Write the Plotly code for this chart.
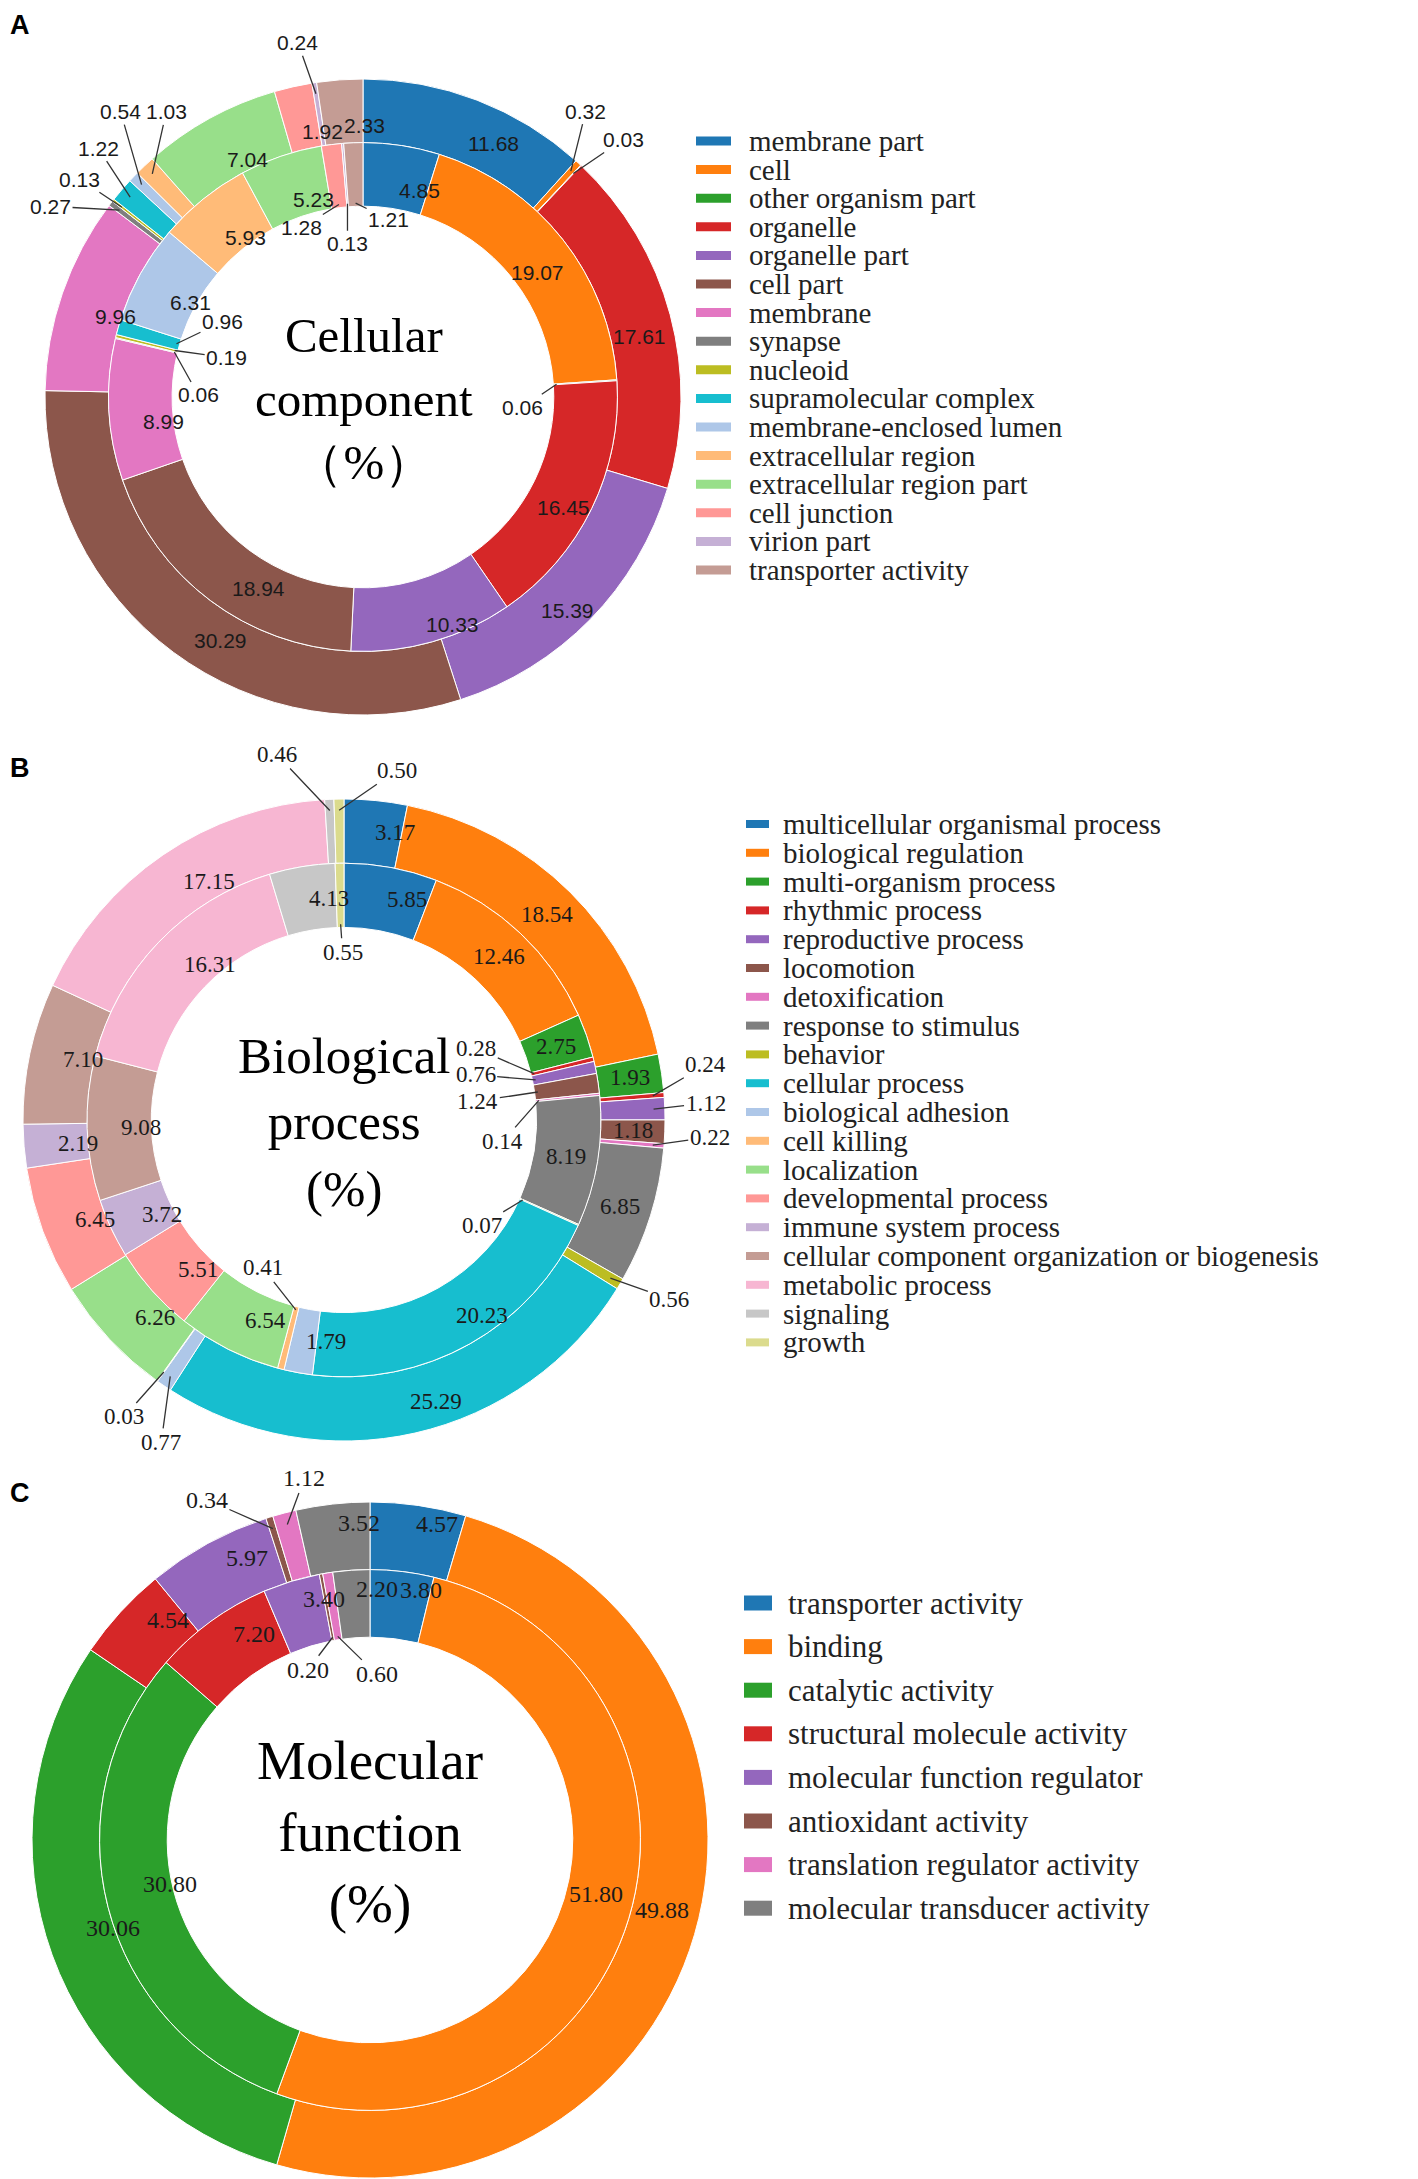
import math
import plotly.graph_objects as go

W, H = 1418, 2179

# ---------------- data ----------------
cc_labels = ["membrane part", "cell", "other organism part", "organelle", "organelle part",
             "cell part", "membrane", "synapse", "nucleoid", "supramolecular complex",
             "membrane-enclosed lumen", "extracellular region", "extracellular region part",
             "cell junction", "virion part", "transporter activity"]
cc_inner = [4.85, 19.07, 0.06, 16.45, 10.33, 18.94, 8.99, 0.06, 0.19, 0.96,
            6.31, 5.93, 5.23, 1.28, 0.13, 1.21]
cc_outer = [11.68, 0.32, 0.03, 17.61, 15.39, 30.29, 9.96, 0.27, 0.13, 1.22,
            0.54, 1.03, 7.04, 1.92, 0.24, 2.33]

bp_labels = ["multicellular organismal process", "biological regulation", "multi-organism process",
             "rhythmic process", "reproductive process", "locomotion", "detoxification",
             "response to stimulus", "behavior", "cellular process", "biological adhesion",
             "cell killing", "localization", "developmental process", "immune system process",
             "cellular component organization or biogenesis", "metabolic process", "signaling", "growth"]
bp_inner = [5.85, 12.46, 2.75, 0.28, 0.76, 1.24, 0.14, 8.19, 0.07, 20.23, 1.79, 0.41,
            6.54, 5.51, 3.72, 9.08, 16.31, 4.13, 0.55]
bp_outer = [3.17, 18.54, 1.93, 0.24, 1.12, 1.18, 0.22, 6.85, 0.56, 25.29, 0.77, 0.03,
            6.26, 6.45, 2.19, 7.10, 17.15, 0.46, 0.50]

mf_labels = ["transporter activity", "binding", "catalytic activity", "structural molecule activity",
             "molecular function regulator", "antioxidant activity", "translation regulator activity",
             "molecular transducer activity"]
mf_inner = [3.80, 51.80, 30.80, 7.20, 3.40, 0.20, 0.60, 2.20]
mf_outer = [4.57, 49.88, 30.06, 4.54, 5.97, 0.34, 1.12, 3.52]

PALETTE = ["#1f77b4", "#ff7f0e", "#2ca02c", "#d62728", "#9467bd", "#8c564b", "#e377c2",
           "#7f7f7f", "#bcbd22", "#17becf", "#aec7e8", "#ffbb78", "#98df8a", "#ff9896",
           "#c5b0d5", "#c49c94", "#f7b6d2", "#c7c7c7", "#dbdb8d", "#9edae5"]

SERIF = "Liberation Serif, Times New Roman, serif"
SANS = "Liberation Sans, Arial, sans-serif"

# ---------------- layout / style ----------------
panels = [
    dict(key="A", labels=cc_labels, inner=cc_inner, outer=cc_outer,
         cx=363, cy=397, R=318, num_font=SANS, num_size=21,
         title="Cellular<br>component<br>（%）", title_xy=(364, 399), title_size=49,
         letter_xy=(20, 25),
         legend=dict(sx0=696, sx1=731, sh=9, tx=747, y0=141, dy=28.6, size=29),
         call_outer={1: (15, -60), 2: (50, -34), 7: (-69, -4), 8: (-42, -28), 9: (-32, -49),
                     10: (-21, -73), 11: (14, -62), 14: (-18, -51)},
         call_inner={2: (-34, 23), 7: (24, 43), 8: (52, 7), 9: (46, -22), 13: (-37, 23),
                     14: (0, 40), 15: (33, 16)}),
    dict(key="B", labels=bp_labels, inner=bp_inner, outer=bp_outer,
         cx=344, cy=1120, R=321, num_font=SERIF, num_size=23,
         title="Biological<br>process<br>(%)", title_xy=(344, 1122), title_size=51,
         letter_xy=(20, 768),
         legend=dict(sx0=746, sx1=769, sh=8, tx=781, y0=824, dy=28.8, size=29),
         call_outer={3: (53, -31), 4: (52, -6), 6: (57, -8), 8: (59, 21), 10: (-9, 66),
                     11: (-40, 45), 17: (-53, -56), 18: (58, -40)},
         call_inner={3: (-58, -25), 4: (-60, -5), 5: (-60, 9), 6: (-36, 41), 8: (-41, 25),
                     11: (-33, -42), 18: (2, 28)}),
    dict(key="C", labels=mf_labels, inner=mf_inner, outer=mf_outer,
         cx=370, cy=1840, R=338, num_font=SERIF, num_size=24,
         title="Molecular<br>function<br>(%)", title_xy=(370, 1832), title_size=55,
         letter_xy=(20, 1493),
         legend=dict(sx0=744, sx1=772, sh=15, tx=786, y0=1603, dy=43.6, size=31),
         call_outer={5: (-66, -29), 6: (17, -46)},
         call_inner={5: (-25, 33), 6: (39, 38)}),
]

HOLE_F = 0.60   # hole radius / outer radius
MID_F = 0.80    # ring boundary / outer radius


def px2paper(x, y):
    return x / W, 1 - y / H


def polar(cx, cy, r, phi):
    a = math.radians(phi)
    return cx + r * math.sin(a), cy - r * math.cos(a)


fig = go.Figure()
annotations = []
shapes = []

for p in panels:
    colors = PALETTE[:len(p["labels"])]
    cx, cy, R = p["cx"], p["cy"], p["R"]
    # outer ring
    x0, y1 = px2paper(cx - R, cy - R)
    x1, y0 = px2paper(cx + R, cy + R)
    fig.add_trace(go.Pie(labels=p["labels"], values=p["outer"], sort=False, direction="clockwise",
                         rotation=0, hole=MID_F, textinfo="none", textposition="none",
                         marker=dict(colors=colors, line=dict(color="white", width=1)),
                         domain=dict(x=[x0, x1], y=[y0, y1]), showlegend=False,
                         hovertemplate="%{label}: %{value:.2f}%<extra></extra>"))
    # inner ring
    r2 = R * MID_F
    x0, y1 = px2paper(cx - r2, cy - r2)
    x1, y0 = px2paper(cx + r2, cy + r2)
    fig.add_trace(go.Pie(labels=p["labels"], values=p["inner"], sort=False, direction="clockwise",
                         rotation=0, hole=HOLE_F / MID_F, textinfo="none", textposition="none",
                         marker=dict(colors=colors, line=dict(color="white", width=1)),
                         domain=dict(x=[x0, x1], y=[y0, y1]), showlegend=False,
                         hovertemplate="%{label}: %{value:.2f}%<extra></extra>"))

    # value labels (positions derived from the cumulative values)
    for ring, vals, calls, r_mid, r_tip in (
            ("outer", p["outer"], p["call_outer"], R * (MID_F + 1) / 2, R * 0.965),
            ("inner", p["inner"], p["call_inner"], R * (HOLE_F + MID_F) / 2, R * (HOLE_F + 0.01))):
        total = sum(vals)
        cum = 0.0
        for i, v in enumerate(vals):
            phi = 360.0 * (cum + v / 2) / total
            cum += v
            txt = f"{v:.2f}"
            font = dict(family=p["num_font"], size=p["num_size"], color="#1a1a1a")
            if i in calls:
                tx, ty = polar(cx, cy, r_tip, phi)
                ax, ay = calls[i]
                px, py = px2paper(tx, ty)
                annotations.append(dict(x=px, y=py, xref="paper", yref="paper", text=txt,
                                        showarrow=True, arrowhead=0, arrowwidth=1.3,
                                        arrowcolor="#333333", ax=ax, ay=ay, standoff=0,
                                        font=font))
            else:
                tx, ty = polar(cx, cy, r_mid, phi)
                px, py = px2paper(tx, ty)
                annotations.append(dict(x=px, y=py, xref="paper", yref="paper", text=txt,
                                        showarrow=False, font=font))

    # centre title
    tx, ty = px2paper(*p["title_xy"])
    annotations.append(dict(x=tx, y=ty, xref="paper", yref="paper", text=p["title"],
                            showarrow=False, xanchor="center", yanchor="middle",
                            font=dict(family=SERIF, size=p["title_size"], color="black")))
    # panel letter
    lx, ly = px2paper(*p["letter_xy"])
    annotations.append(dict(x=lx, y=ly, xref="paper", yref="paper", text=f"<b>{p['key']}</b>",
                            showarrow=False, xanchor="center", yanchor="middle",
                            font=dict(family=SANS, size=27, color="black")))

    # legend (swatches + labels)
    lg = p["legend"]
    for i, (lab, col) in enumerate(zip(p["labels"], colors)):
        yc = lg["y0"] + i * lg["dy"]
        sx0, sy1 = px2paper(lg["sx0"], yc - lg["sh"] / 2)
        sx1, sy0 = px2paper(lg["sx1"], yc + lg["sh"] / 2)
        shapes.append(dict(type="rect", xref="paper", yref="paper", x0=sx0, x1=sx1, y0=sy0, y1=sy1,
                           fillcolor=col, line=dict(width=0)))
        ax_, ay_ = px2paper(lg["tx"], yc)
        annotations.append(dict(x=ax_, y=ay_, xref="paper", yref="paper", text=lab,
                                showarrow=False, xanchor="left", yanchor="middle",
                                font=dict(family=SERIF, size=lg["size"], color="#222222")))

fig.update_layout(width=W, height=H, margin=dict(l=0, r=0, t=0, b=0),
                  paper_bgcolor="white", plot_bgcolor="white", showlegend=False,
                  annotations=annotations, shapes=shapes)

fig.write_html("out.html", config={"displayModeBar": False},
               post_script="document.body.style.margin='0';document.body.style.overflow='hidden';")
